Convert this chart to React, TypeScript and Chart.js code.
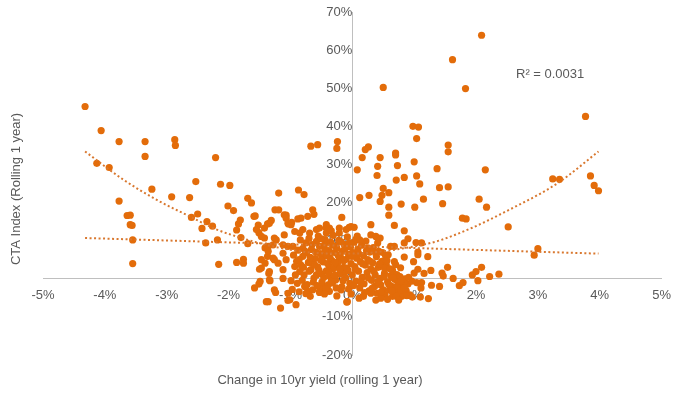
import React, { useEffect, useRef } from "react";
import { Chart, registerables } from "chart.js";

Chart.register(...registerables);

// Change in 10yr yield (%, x) vs CTA index rolling 1y return (%, y)
const leftTail: [number, number][] = [
  [-4.32, 45.2], [-4.06, 38.9], [-3.77, 36.0], [-3.35, 36.0], [-3.35, 32.1], [-4.13, 30.3], [-3.93, 29.2],
  [-2.87, 36.5], [-2.86, 35.0], [-3.24, 23.5], [-2.21, 31.8], [-2.53, 25.5], [-2.13, 24.8], [-1.98, 24.5],
  [-2.92, 21.5], [-2.63, 21.3], [-1.69, 21.1], [-1.19, 22.5], [-0.87, 23.3], [-0.78, 22.1], [-0.67, 34.8],
  [-0.56, 35.2], [-0.24, 36.0], [-0.25, 34.2], [-3.77, 20.4], [-3.64, 16.6], [-3.59, 16.7], [-3.59, 14.2],
  [-3.56, 14.0], [-3.55, 10.2], [-3.55, 4.0], [-2.50, 17.0], [-2.60, 16.1], [-2.35, 15.0], [-2.43, 13.2],
  [-2.26, 13.8], [-2.37, 9.4], [-2.18, 10.2], [-2.16, 3.8], [-2.01, 19.1], [-1.92, 17.9], [-1.87, 12.8],
  [-1.84, 14.4], [-1.81, 15.4], [-1.80, 10.8], [-1.87, 4.3], [-1.76, 5.1], [-1.76, 4.1], [-1.69, 9.2],
  [-1.59, 16.4], [-1.57, 16.5], [-1.52, 14.1], [-1.51, 12.1], [-1.25, 18.1], [-1.19, 18.1], [-1.07, 16.7],
  [-1.63, 19.9],
];

const rightTail: [number, number][] = [
  [2.09, 63.9], [1.62, 57.5], [1.83, 49.9], [0.50, 50.2], [3.77, 42.6], [0.98, 40.0], [1.07, 39.8],
  [1.04, 36.8], [0.26, 34.6], [0.21, 33.9], [0.16, 31.8], [0.45, 31.8], [0.70, 33.0], [0.70, 32.5],
  [1.55, 35.1], [1.55, 33.3], [0.08, 28.6], [0.41, 29.5], [0.73, 29.7], [0.40, 27.1], [1.00, 30.7],
  [1.04, 27.0], [1.09, 24.9], [1.37, 28.9], [0.84, 26.6], [0.71, 25.9], [0.50, 23.7], [0.59, 22.6],
  [0.48, 21.9], [0.27, 21.9], [0.12, 21.3], [1.41, 23.9], [1.55, 24.1], [2.15, 28.6], [3.24, 26.2],
  [3.35, 26.1], [3.85, 27.0], [3.91, 24.5], [3.98, 23.1], [2.05, 20.9], [1.15, 20.9], [0.45, 20.3],
  [0.79, 19.6], [1.01, 18.8], [1.46, 19.7], [2.17, 18.8], [0.59, 18.8], [0.59, 16.7], [0.68, 14.0],
  [1.78, 15.9], [1.84, 15.7], [2.52, 13.6], [0.84, 12.6], [0.90, 10.5], [0.84, 9.4], [1.03, 9.5],
  [1.12, 9.4], [1.06, 7.0], [1.06, 6.3], [1.22, 5.8], [0.99, 4.5], [3.00, 7.9], [2.94, 6.2], [1.06, 2.5],
  [1.00, 1.5], [1.27, 2.2], [1.16, 1.4], [1.54, 3.0], [1.45, 1.5], [1.47, 0.7], [1.63, 0.1], [1.73, -1.8],
  [1.79, -1.0], [1.94, 1.0], [2.00, 1.9], [2.09, 3.0], [2.03, -0.5], [2.22, 0.6], [2.37, 1.2], [1.41, -2.0],
  [1.28, -1.7], [1.23, -5.2], [1.10, -4.8], [0.97, -4.8], [1.12, -1.0], [1.04, -1.0], [0.84, 5.7],
  [1.11, -2.4], [0.84, -2.4], [0.78, -0.7],
];

const centralCluster: [number, number][] = [
  [-1.58, -2.4], [-1.51, -1.4], [-1.49, -0.7], [-1.39, -6.0], [-1.36, -6.0], [-1.16, -7.7], [-1.04, -5.7],
  [-1.24, -3.6], [-1.33, -0.5], [-1.12, 0.1], [-1.50, 2.5], [-1.35, 1.4], [-1.55, 12.9], [-1.42, 13.3],
  [-1.34, 14.6], [-1.47, 11.1], [-1.10, 16.8], [-1.07, 15.9], [-1.04, 14.6], [-0.99, 14.2], [-1.47, 5.0],
  [-1.37, 5.9], [-1.26, 5.0], [-1.47, 2.8], [-1.34, 1.9], [-1.12, 2.4], [-1.34, -0.3], [-0.99, -0.5],
  [-1.26, -2.9], [-1.04, -3.8], [-0.91, -6.8], [-1.01, -5.5], [-0.72, -3.3], [-0.53, -3.3], [-0.77, -2.0],
  [-1.42, 10.7], [-1.26, 10.7], [-1.23, 10.2], [-1.10, 11.5], [-0.93, 12.4], [-0.85, 12.0], [-0.80, 12.9],
  [-0.58, 12.9], [-0.53, 13.3], [-0.42, 13.3], [-1.36, 8.5], [-1.28, 8.9], [-1.12, 8.9], [-1.04, 8.5],
  [-0.88, 15.7], [-0.83, 15.9], [-0.72, 16.4], [-0.64, 18.1], [-0.62, 16.9], [-1.03, 14.4], [-0.98, 14.8],
  [-1.37, 14.4], [-1.31, 15.3], [-1.41, 4.1], [-1.41, 8.1], [-1.36, 7.2], [-1.28, 5.4], [-1.20, 4.1],
  [-1.12, 6.7], [-1.07, 5.0], [-0.96, 8.5], [-0.93, 3.2], [-0.85, 1.9], [-0.80, 5.9], [-0.75, 9.4],
  [-0.69, 12.0], [-0.64, 4.1], [-0.58, 1.0], [-0.53, 8.5], [-0.48, 5.9], [-0.42, 12.0], [-0.37, 3.2],
  [-0.32, -1.1], [-0.26, 8.5], [-0.21, 5.0], [-0.13, 1.5], [-0.10, 12.9], [-0.48, -2.0], [-0.64, -2.9],
  [-0.37, -3.3], [-0.18, -2.9], [-0.53, -3.6], [-0.75, -3.9], [-0.09, -6.1], [-0.17, 16.1], [-0.05, 13.5],
  [-0.42, 14.2], [-0.37, 13.3], [-0.34, 12.6], [-0.21, 13.3], [-0.21, 12.0],
  [-0.95, 6.2], [-0.90, 4.6], [-0.88, 7.5], [-0.83, 3.6], [-0.80, 8.0], [-0.78, 1.0], [-0.74, 6.8],
  [-0.71, 4.3], [-0.70, 10.6], [-0.67, 2.4], [-0.66, 7.7], [-0.62, 0.2], [-0.60, 5.3], [-0.58, 9.8],
  [-0.56, 3.1], [-0.55, 11.2], [-0.52, 6.6], [-0.50, 1.3], [-0.49, -0.8], [-0.47, 4.4], [-0.45, 8.9],
  [-0.44, 10.3], [-0.42, 2.1], [-0.41, 6.0], [-0.39, -1.6], [-0.38, 7.4], [-0.36, 0.6], [-0.35, 9.6],
  [-0.33, 4.8], [-0.31, 11.4], [-0.30, 2.7], [-0.29, 6.9], [-0.27, -0.3], [-0.25, 8.0], [-0.24, 3.9],
  [-0.22, 10.1], [-0.21, 1.2], [-0.19, 5.6], [-0.17, -2.1], [-0.16, 7.2], [-0.14, 3.0], [-0.13, 9.0],
  [-0.11, 0.3], [-0.10, 5.1], [-0.08, 11.0], [-0.07, 2.2], [-0.06, 6.4], [-0.04, -1.2], [-0.03, 8.3],
  [-0.02, 4.0], [0.00, 1.0], [0.01, 6.9], [0.03, 9.6], [0.04, 3.2], [0.06, -0.6], [0.07, 5.4],
  [0.09, 7.8], [0.10, 2.0], [0.12, -2.4], [0.13, 4.5], [0.15, 8.8], [0.16, 0.4], [0.18, 6.1],
  [0.19, -1.3], [0.21, 3.6], [0.22, 9.9], [0.24, 1.6], [0.25, 5.0], [0.27, -3.2], [0.28, 7.0],
  [0.30, 2.6], [0.31, -0.4], [0.33, 4.2], [0.34, 8.2], [0.36, -2.0], [0.37, 1.0], [0.39, 5.8],
  [0.40, -3.8], [0.42, 3.0], [0.43, 7.2], [0.45, 0.1], [0.46, -1.6], [0.48, 4.6], [0.50, -2.9],
  [0.52, 1.4], [0.53, -4.3], [0.55, 3.6], [0.57, -0.8], [0.58, 6.3], [0.60, -3.0], [0.62, 0.8],
  [0.63, -1.9], [0.65, 2.2], [0.67, -4.0], [0.69, -0.2], [0.70, -2.6], [0.72, 1.1], [0.74, -3.5],
  [0.76, -1.0], [0.78, 2.9], [0.80, -4.6], [0.82, -2.2], [0.85, 0.0], [0.87, -3.1], [0.90, -1.4],
  [0.93, -4.2], [0.96, -0.6],
  [0.30, 14.2], [0.30, 11.5], [0.38, 11.1], [0.45, 10.7], [0.06, 10.4], [0.12, 10.2], [0.41, 9.4],
  [0.68, 8.5], [0.25, 8.1], [0.30, 7.6], [0.49, 6.9], [0.54, 5.9], [0.68, 4.5], [0.70, 3.7], [0.52, 2.8],
  [0.62, 8.5], [-0.02, 13.7], [0.03, 13.5], [-0.08, -6.0], [0.11, -5.1], [0.46, -5.1], [0.65, -4.6],
  [0.81, -4.2], [0.30, -3.8],
  [-0.92, 1.0], [-0.89, -1.2], [-0.86, 5.0], [-0.84, 10.2], [-0.81, -0.4], [-0.79, 3.0], [-0.76, 7.2],
  [-0.73, -1.5], [-0.70, 2.0], [-0.68, 5.6], [-0.65, 9.0], [-0.63, -0.9], [-0.61, 3.7], [-0.59, 7.0],
  [-0.57, -1.8], [-0.54, 2.3], [-0.51, 4.9], [-0.50, 10.5], [-0.46, 0.4], [-0.44, 7.6], [-0.43, -2.6],
  [-0.40, 4.0], [-0.38, 1.6], [-0.36, 5.5], [-0.34, -0.7], [-0.32, 8.8], [-0.29, 0.9], [-0.28, 4.3],
  [-0.26, -2.4], [-0.23, 6.2], [-0.20, 2.6], [-0.18, 9.7], [-0.15, -0.5], [-0.14, 4.7], [-0.12, 7.9],
  [-0.09, 2.8], [-0.06, -2.7], [-0.05, 9.4], [-0.01, 5.9], [0.02, -1.8], [0.05, 2.5], [0.08, 11.2],
  [0.11, 6.5], [0.14, -0.9], [0.17, 3.9], [0.20, -3.6], [0.23, 7.4], [0.26, 0.2], [0.29, 4.6],
  [0.32, -2.5], [0.35, 2.0], [0.38, 6.6], [0.41, -0.8], [0.44, 3.9], [0.47, -3.4], [0.51, 0.5],
  [0.56, 4.8], [0.59, -1.5], [0.61, 2.6], [0.64, -3.2], [0.66, 0.3], [0.71, -4.6], [0.73, -1.8],
  [0.77, 0.6], [0.79, -3.0], [0.83, -1.0], [0.88, -4.4], [0.91, 0.4], [-0.97, -2.8], [-0.86, -3.4],
  [-0.68, -4.6], [-0.45, -4.0], [-0.25, -4.5], [-0.02, -4.0], [0.18, -4.6], [0.38, -5.6], [0.57, -5.4],
  [0.75, -5.6],
];

// Trend lines
const linearTrendX = [-4.32, 3.98];
const linearTrendY = [10.7, 6.6];
const polyTrendX = [-4.32, -3.7, -3.16, -2.62, -2.19, -1.77, -1.44, -1.0, -0.5, 0, 0.5, 0.86, 1.13, 1.4, 1.94, 2.475, 3.33, 3.98];
const polyTrendY = [33.4, 26.0, 20.7, 16.3, 12.9, 10.6, 9.1, 7.6, 6.7, 6.6, 7.2, 8.1, 8.9, 10.0, 13.4, 17.6, 25.2, 33.4];

const xTickValues = [-5, -4, -3, -2, -1, 0, 1, 2, 3, 4, 5];
const yTickValues = [-20, -10, 0, 10, 20, 30, 40, 50, 60, 70];

const xTitle = "Change in 10yr yield (rolling 1 year)";
const yTitle = "CTA Index (Rolling 1 year)";
const rSquaredLabel = "R² = 0.0031";

const FONT = '"Liberation Sans", Arial, sans-serif';
const TEXT = "#595959";
const ORANGE = "#E36C0A";
const TREND = "#D9782F";

export default function App() {
  const canvasRef = useRef<HTMLCanvasElement | null>(null);

  useEffect(() => {
    document.body.style.margin = "0";
    const canvas = canvasRef.current;
    if (!canvas) return;

    const points = [...leftTail, ...centralCluster, ...rightTail].map(([x, y]) => ({ x, y }));
    const linear = linearTrendX.map((x, i) => ({ x, y: linearTrendY[i] }));
    const poly = polyTrendX.map((x, i) => ({ x, y: polyTrendY[i] }));

    const labels = {
      id: "labels",
      afterDraw(chart: any) {
        const ctx = chart.ctx;
        ctx.save();
        ctx.fillStyle = TEXT;
        ctx.font = `13px ${FONT}`;
        ctx.textBaseline = "middle";
        ctx.textAlign = "center";
        ctx.fillText(xTitle, 320, 380);
        ctx.textAlign = "left";
        ctx.fillText(rSquaredLabel, 516, 74);
        ctx.translate(16, 189);
        ctx.rotate(-Math.PI / 2);
        ctx.textAlign = "center";
        ctx.fillText(yTitle, 0, 0);
        ctx.restore();
      },
    };

    const chart = new Chart(canvas, {
      type: "scatter",
      data: {
        datasets: [
          {
            type: "line",
            data: poly,
            borderColor: TREND,
            borderWidth: 2,
            borderDash: [2, 2.5],
            pointRadius: 0,
            cubicInterpolationMode: "monotone",
            fill: false,
            order: 0,
          } as any,
          {
            type: "line",
            data: linear,
            borderColor: TREND,
            borderWidth: 2,
            borderDash: [2, 2.5],
            pointRadius: 0,
            fill: false,
            order: 0,
          } as any,
          {
            data: points,
            backgroundColor: ORANGE,
            borderColor: ORANGE,
            borderWidth: 0,
            pointRadius: 3.6,
            order: 1,
          },
        ],
      },
      options: {
        animation: false,
        responsive: false,
        devicePixelRatio: 1,
        layout: { padding: { left: 43, right: 17, top: 12, bottom: 41 } },
        plugins: { legend: { display: false }, tooltip: { enabled: false } },
        scales: {
          x: {
            type: "linear",
            min: -5,
            max: 5,
            position: { y: 0 } as any,
            z: 1,
            afterBuildTicks: (s: any) => {
              s.ticks = xTickValues.map((v) => ({ value: v }));
            },
            ticks: {
              callback: (v: any) => `${v}%`,
              color: TEXT,
              font: { family: FONT, size: 13 },
              padding: 9,
              maxRotation: 0,
              autoSkip: false,
            },
            grid: { display: false, drawTicks: false },
            border: { display: true, color: "#BFBFBF", width: 1 },
          },
          y: {
            type: "linear",
            min: -20,
            max: 70,
            position: { x: 0 } as any,
            z: 1,
            afterBuildTicks: (s: any) => {
              s.ticks = yTickValues.map((v) => ({ value: v }));
            },
            ticks: {
              callback: (v: any) => `${v}%`,
              color: TEXT,
              font: { family: FONT, size: 13 },
              padding: 4,
              autoSkip: false,
            },
            grid: { display: false, drawTicks: true, tickLength: 7 },
            border: { display: true, color: "#BFBFBF", width: 1 },
          },
        },
      },
      plugins: [labels],
    });

    return () => chart.destroy();
  }, []);

  return (
    <div style={{ width: 680, height: 396 }}>
      <canvas ref={canvasRef} width={680} height={396} style={{ display: "block" }} />
    </div>
  );
}
